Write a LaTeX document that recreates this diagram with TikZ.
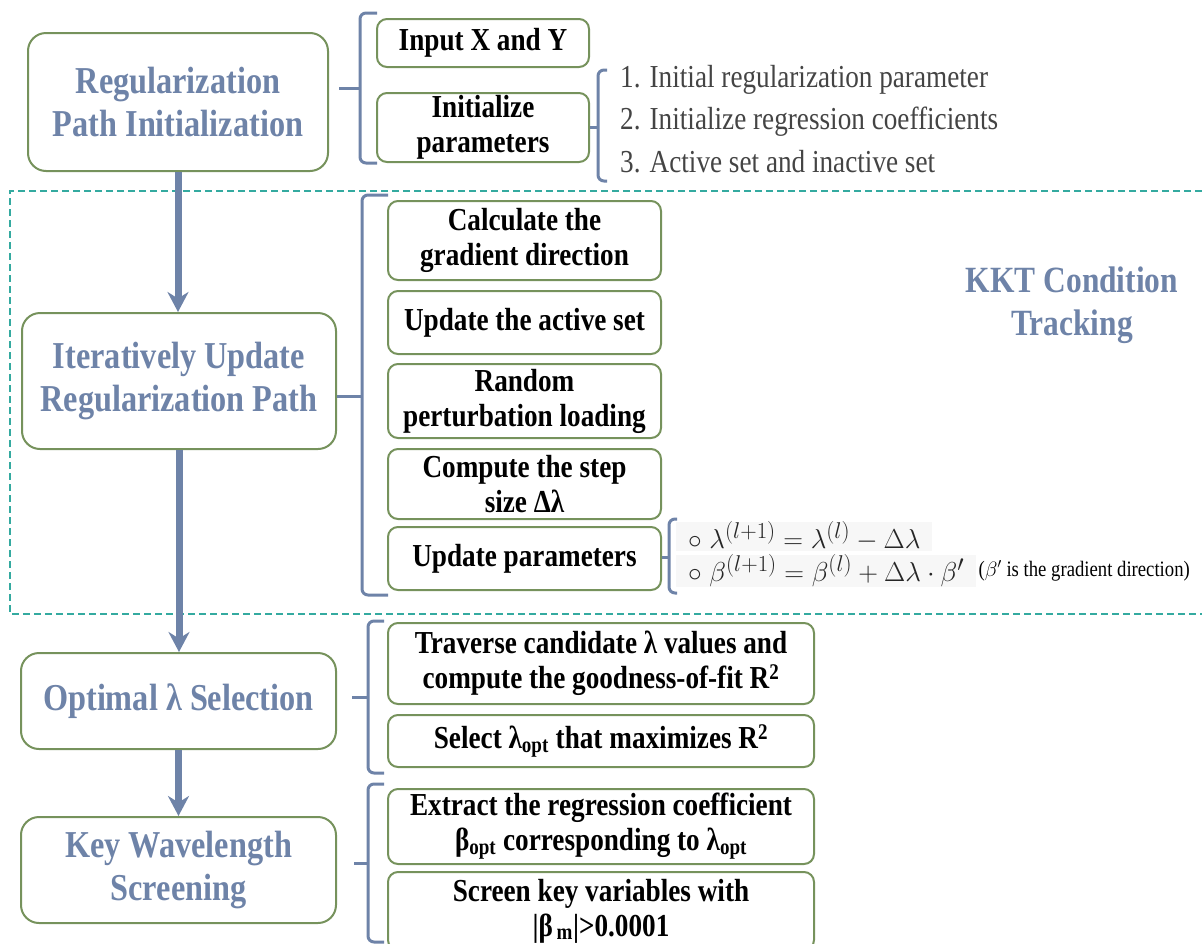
\documentclass[tikz,border=0pt]{standalone}
\usepackage{fontspec}
\setmainfont{Liberation Serif}[FakeStretch=0.85]
\usetikzlibrary{arrows.meta}
\definecolor{pathblue}{RGB}{110,131,168}
\definecolor{boxgreen}{RGB}{118,146,92}
\definecolor{kktteal}{RGB}{52,170,160}
\definecolor{itemgray}{RGB}{68,68,68}
\tikzset{>=stealth}
\tikzset{
  stage/.style={draw=boxgreen, line width=2pt, rounded corners=18pt, align=center,
    text=pathblue, font=\bfseries\fontsize{38}{43}\selectfont},
  task/.style={draw=boxgreen, line width=2pt, rounded corners=10pt, align=center,
    inner sep=0pt, font=\bfseries\fontsize{32}{35}\selectfont},
  flow/.style={draw=pathblue, line width=7pt, -{Stealth[length=20pt,width=21pt]}},
  brace/.style={draw=pathblue, line width=3pt},
  item/.style={anchor=west, inner sep=0pt, text=itemgray, font=\fontsize{32}{35}\selectfont},
  formula/.style={anchor=west, fill=black!3, inner xsep=12pt, inner ysep=0pt,
    minimum height=29pt, text=black!85, font=\fontsize{24.88}{28}\selectfont}
}
% spine x, top, bottom, end of the hooks
\newcommand{\brak}[4]{\draw[brace, rounded corners=6pt] (#4,#2) -- (#1,#2) -- (#1,#3) -- (#4,#3);}

\begin{document}
\begin{tikzpicture}[x=1pt, y=-1pt]
\useasboundingbox (0,0) rectangle (1202,943);
% KKT region
\draw[kktteal, line width=1.5pt, dash pattern=on 7pt off 4pt] (1202,191) -- (10,191) -- (10,614) -- (1202,614);
\node[text=pathblue, align=center, font=\bfseries\fontsize{37}{43}\selectfont] (kkt) at (1072,305) {KKT Condition\\Tracking};

% stages
\node[stage, minimum width=300pt, minimum height=138pt] (init) at (178,102) {Regularization\\Path Initialization};
\node[stage, minimum width=314pt, minimum height=136pt] (iter) at (179,381) {Iteratively Update\\Regularization Path};
\node[stage, minimum width=315pt, minimum height=96pt] (opt) at (178.5,701) {Optimal λ Selection};
\node[stage, minimum width=315pt, minimum height=106pt] (key) at (178.5,870) {Key Wavelength\\Screening};
\draw[flow] (init.south) -- (init.south |- iter.north);
\draw[flow] (iter.south) -- (iter.south |- opt.north);
\draw[flow] (opt.south) -- (opt.south |- key.north);

% initialization
\node[task, minimum width=212pt, minimum height=48pt] (inxy) at (483,43) {Input X and Y};
\node[task, minimum width=212pt, minimum height=69pt] (inpar) at (483,127.5) {Initialize\\parameters};
\coordinate (t1) at (360,88);
\brak{360}{13}{163}{377}
\draw[brace] (init.east |- t1) ++(10,0) -- (t1);
\node[item] (it1) at (620,80) {1. Initial regularization parameter};
\node[item] (it2) at (620,122) {2. Initialize regression coefficients};
\node[item] (it3) at (620,162) {3. Active set and inactive set};
\coordinate (t2) at (598,127.5);
\brak{598}{70}{181}{607}
\draw[brace] (inpar.east) -- (t2);

% iteration
\node[task, minimum width=273pt, minimum height=79pt] (grad) at (524.5,240.5) {Calculate the\\gradient direction};
\node[task, minimum width=273pt, minimum height=63pt] (act) at (524.5,322.5) {Update the active set};
\node[task, minimum width=273pt, minimum height=74pt] (pert) at (524.5,401) {Random\\perturbation loading};
\node[task, minimum width=273pt, minimum height=70pt] (stepsz) at (524.5,484) {Compute the step\\size Δλ};
\node[task, minimum width=273pt, minimum height=63pt] (upd) at (524.5,558.5) {Update parameters};
\coordinate (t3) at (362,396);
\brak{362}{195}{595}{388}
\draw[brace] (iter.east |- t3) -- (t3);
\node[formula] (fml1) at (676,536.5) {\scalebox{1.1}{$\circ\;\lambda^{(l+1)}=\lambda^{(l)}-\Delta\lambda$}};
\node[formula] (fml2) at (676,571) {\scalebox{1.1}{$\circ\;\beta^{(l+1)}=\beta^{(l)}+\Delta\lambda\cdot\beta'$}};
\node[anchor=west, inner sep=0pt, font=\fontsize{22}{24}\selectfont] (note) at ([xshift=2pt]fml2.east) {($\beta'$ is the gradient direction)};
\coordinate (t4) at (669,557);
\brak{669}{519}{593}{677}
\draw[brace] (upd.east |- t4) -- (t4);

% selection
\node[task, minimum width=426pt, minimum height=81pt] (trav) at (601,663.5) {Traverse candidate λ values and\\compute the goodness-of-fit R\textsuperscript{2}};
\node[task, minimum width=426pt, minimum height=52pt] (sel) at (601,741) {Select λ\textsubscript{opt} that maximizes R\textsuperscript{2}};
\coordinate (t5) at (368,697);
\brak{368}{621}{773}{384}
\draw[brace] (opt.east |- t5) ++(15,0) -- (t5);

% screening
\node[task, minimum width=426pt, minimum height=75pt] (ext) at (601,826.5) {Extract the regression coefficient\\β\textsubscript{opt} corresponding to λ\textsubscript{opt}};
\node[task, minimum width=426pt, minimum height=78pt] (scr) at (601,911) {Screen key variables with\\|β\textsubscript{\,m}|>0.0001};
\coordinate (t6) at (368,863);
\brak{368}{784}{942}{384}
\draw[brace] (key.east |- t6) ++(17,0) -- (t6);
\end{tikzpicture}
\end{document}
